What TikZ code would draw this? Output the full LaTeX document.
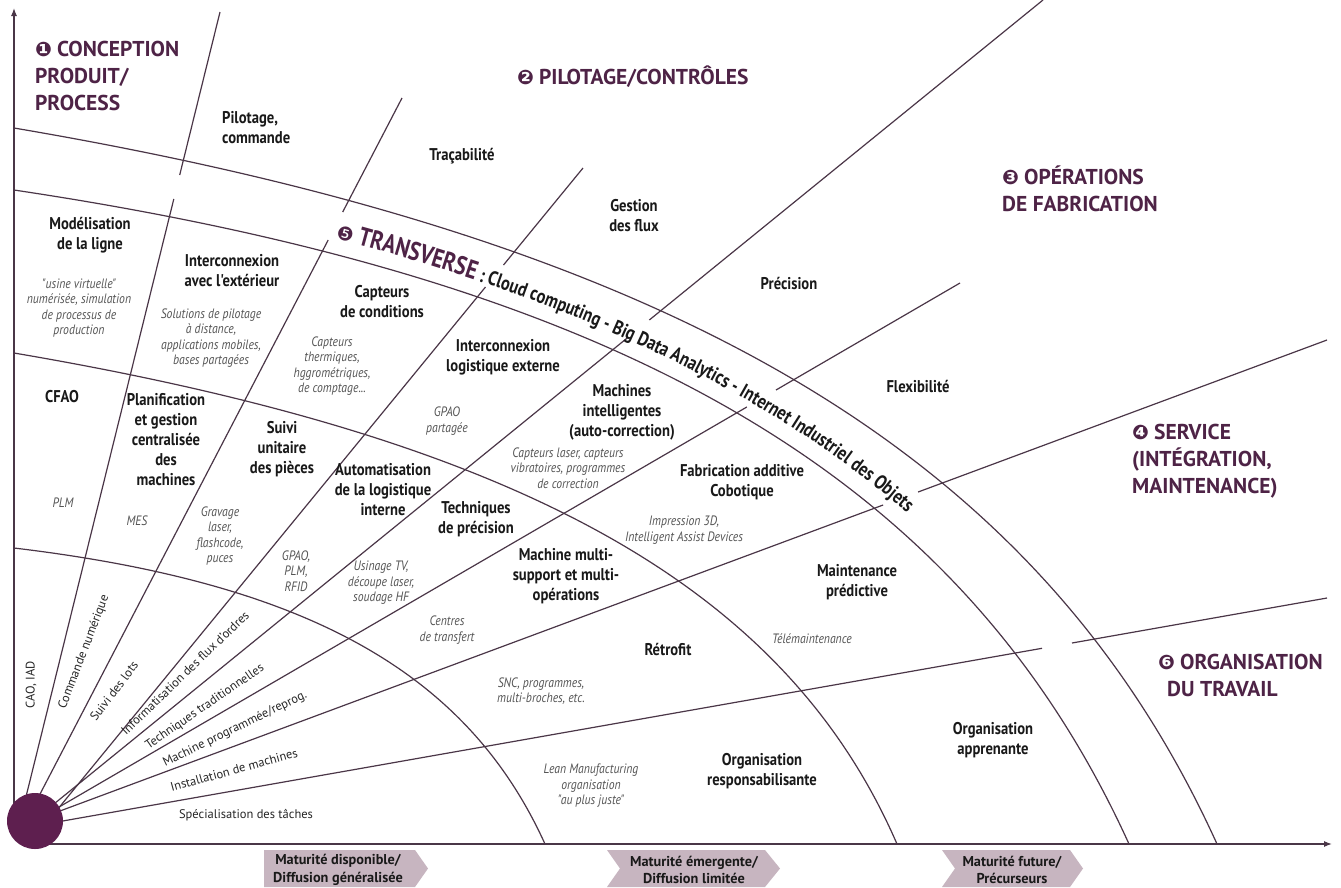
\documentclass[tikz,border=0pt]{standalone}
\usepackage{fontspec}
\setmainfont{PT Sans}
\newfontfamily\cond{PT Sans}[FakeStretch=0.86]
\newfontfamily\bandf{PT Sans}[FakeStretch=0.82]
\newfontfamily\sym{DejaVu Sans}
\usetikzlibrary{decorations.text, arrows.meta}
\definecolor{lc}{HTML}{4A3647}
\definecolor{hc}{HTML}{4E2346}
\definecolor{cc}{HTML}{5E1F4F}
\definecolor{bx}{HTML}{C7B5C0}
\definecolor{ic}{HTML}{555555}
\newcommand\labf{\cond\bfseries\fontsize{17}{20}\selectfont}
\newcommand\descf{\cond\itshape\fontsize{13.6}{15.5}\selectfont}
\newcommand\fanf{\fontsize{12.5}{14}\selectfont}
\newcommand\headf{\bfseries\fontsize{21.5}{27}\selectfont}
\newcommand\boxf{\bfseries\fontsize{14.3}{17.5}\selectfont}
\newcommand\hnum[1]{{\sym\fontsize{20}{20}\selectfont #1}\hspace{5pt}}
\begin{document}
\begin{tikzpicture}[x=1pt,y=-1pt,
  ln/.style={draw=lc, line width=1.2pt},
  lab/.style={font=\labf, align=center, inner sep=0pt, text=black!90},
  desc/.style={font=\descf, align=center, inner sep=0pt, text=ic},
  fan/.style={font=\fanf, inner sep=0pt, text=black!85},
  head/.style={font=\headf, align=left, inner sep=0pt, text=hc, anchor=west},
  boxt/.style={font=\boxf, align=center, inner sep=0pt, text=black!90},
  mbox/.style={fill=bx}]
\useasboundingbox (0,0) rectangle (1341,887);
\fill[white] (0,0) rectangle (1341,887);

% axes
\draw[ln, -{Latex[length=8pt,width=6pt]}] (14,821) -- (14,8);
\draw[ln, -{Latex[length=8pt,width=6pt]}] (35,844) -- (1332,844);

% arcs
\draw[ln] (14,548) .. controls (307,583) and (467,672) .. (545,844);
\draw[ln] (14,353) .. controls (520,439) and (785,586) .. (897,844);
\draw[ln] (14,190) .. controls (629,282) and (963,479) .. (1129,844);
\draw[ln] (14,128) .. controls (680,241) and (1041,456) .. (1217,844);

% rays
\draw[ln] (220,12) -- (179.7,175);   \draw[ln] (173.8,199) -- (20,821);
\draw[ln] (402,98) -- (342.7,212);   \draw[ln] (328.2,240) -- (26,821);
\draw[ln] (583,168) -- (503.5,265);  \draw[ln] (485.5,287) -- (48,821);
\draw[ln] (1043,0) -- (649.3,320);   \draw[ln] (627.2,338) -- (33,821);
\draw[ln] (960,283) -- (776,390);    \draw[ln] (746.8,407) -- (35,821);
\draw[ln] (1327,340) -- (918.1,492); \draw[ln] (883.1,505) -- (33,821);
\draw[ln] (1327,598) -- (1072,643);  \draw[ln] (1042,648.3) -- (40,825);

% centre disc
\fill[cc] (35,821) circle[radius=28pt];

% fan labels
\node[fan, rotate=90] (cao) at (31,685) {CAO, IAD};
\node[fan, rotate=69] (cn) at (84,652) {Commande numérique};
\node[fan, rotate=53] (sl) at (114,691) {Suivi des lots};
\node[fan, rotate=44] (ifo) at (185,673) {Informatisation des flux d'ordres};
\node[fan, rotate=34.5] (tt) at (205,707) {Techniques traditionnelles};
\node[fan, rotate=26] (mp) at (235,729) {Machine programmée/reprog.};
\node[fan, rotate=15.5] (im) at (234,770) {Installation de machines};
\node[fan] (st) at (246,815) {Spécialisation des tâches};

% ring 1
\node[lab] (cfao) at (62,397) {CFAO};
\node[desc] (plm) at (63,503) {PLM};
\node[lab] (plan) at (166,440) {Planification\\et gestion\\centralisée\\des\\machines};
\node[desc] (mes) at (137,521) {MES};
\node[lab] (suivi) at (282,449) {Suivi\\unitaire\\des pièces};
\node[desc] (grav) at (220,536) {Gravage\\laser,\\flashcode,\\puces};
\node[lab] (auto) at (383,490) {Automatisation\\de la logistique\\interne};
\node[desc] (gpao) at (296,571) {GPAO,\\PLM,\\RFID};
\node[lab] (tech) at (476,519) {Techniques\\de précision};
\node[desc] (usin) at (381,583) {Usinage TV,\\découpe laser,\\soudage HF};
\node[lab] (mmulti) at (566,576) {Machine multi-\\support et multi-\\opérations};
\node[desc] (ctr) at (447,630) {Centres\\de transfert};
\node[lab] (retro) at (668,649) {Rétrofit};
\node[desc] (snc) at (541,691) {SNC, programmes,\\multi-broches, etc.};
\node[desc] (lean) at (591,786) {Lean Manufacturing\\organisation\\"au plus juste"};
\node[lab] (orgr) at (762,771) {Organisation\\responsabilisante};

% ring 2
\node[lab] (mod) at (90,235) {Modélisation\\de la ligne};
\node[desc] (usine) at (79,308) {"usine virtuelle"\\numérisée, simulation\\de processus de\\production};
\node[lab] (inter) at (232,271) {Interconnexion\\avec l'extérieur};
\node[desc] (sol) at (211,338) {Solutions de pilotage\\à distance,\\applications mobiles,\\bases partagées};
\node[lab] (capc) at (382,302) {Capteurs\\de conditions};
\node[desc] (capt) at (332,366) {Capteurs\\thermiques,\\hggrométriques,\\de comptage...};
\node[lab] (ilog) at (503,357) {Interconnexion\\logistique externe};
\node[desc] (gpaop) at (447,421) {GPAO\\partagée};
\node[lab] (mint) at (622,412) {Machines\\intelligentes\\(auto-correction)};
\node[desc] (claser) at (568,468) {Capteurs laser, capteurs\\vibratoires, programmes\\de correction};
\node[lab] (fab) at (742,482) {Fabrication additive\\Cobotique};
\node[desc] (imp) at (684,530) {Impression 3D,\\Intelligent Assist Devices};
\node[lab] (maint) at (857,582) {Maintenance\\prédictive};
\node[desc] (tele) at (812,639) {Télémaintenance};
\node[lab] (orga) at (993,740) {Organisation\\apprenante};

% outer ring
\node[lab, align=left, anchor=west] (pil) at (222,128) {Pilotage,\\commande};
\node[lab] (trac) at (462,156) {Traçabilité};
\node[lab] (gest) at (634,216) {Gestion\\des flux};
\node[lab] (prec) at (789,283) {Précision};
\node[lab] (flex) at (918,386) {Flexibilité};

% headings
\node[head] (h1) at (35,76) {\hnum{❶}CONCEPTION\\PRODUIT/\\PROCESS};
\node[head] (h2) at (517,77) {\hnum{❷}PILOTAGE/CONTRÔLES};
\node[head] (h3) at (1002,189) {\hnum{❸}OPÉRATIONS\\DE FABRICATION};
\node[head] (h4) at (1132,461) {\hnum{❹}SERVICE\\(INTÉGRATION,\\MAINTENANCE)};
\node[head] (h6) at (1158,675) {\hnum{❻}ORGANISATION\\\hspace{9pt}DU TRAVAIL};

% transverse band text
\path[decorate, decoration={text along path, text align={left indent=9pt},
  text={|\sym\fontsize{19}{19}\selectfont\color{hc}|❺|\bandf\bfseries\fontsize{26}{26}\selectfont\color{hc}| TRANSVERSE|\bandf\bfseries\fontsize{20}{20}\selectfont\color{black!90}| : Cloud computing - Big Data Analytics - Internet Industriel des Objets}}]
  (326.6,236) .. controls (760.7,348.8) and (1015.3,539.5) .. (1153.6,844);

% maturity boxes
\fill[mbox] (264,850) -- (415,850) -- (428,868.5) -- (415,887) -- (264,887) -- cycle;
\fill[mbox] (607,850) -- (765,850) -- (780,868.5) -- (765,887) -- (607,887) -- (620,868.5) -- cycle;
\fill[mbox] (942,850) -- (1070,850) -- (1083,868.5) -- (1070,887) -- (942,887) -- (955,868.5) -- cycle;
\node[boxt] (b1) at (338,870) {Maturité disponible/\\Diffusion généralisée};
\node[boxt] (b2) at (694,870) {Maturité émergente/\\Diffusion limitée};
\node[boxt] (b3) at (1012,870) {Maturité future/\\Précurseurs};
\end{tikzpicture}
\end{document}
